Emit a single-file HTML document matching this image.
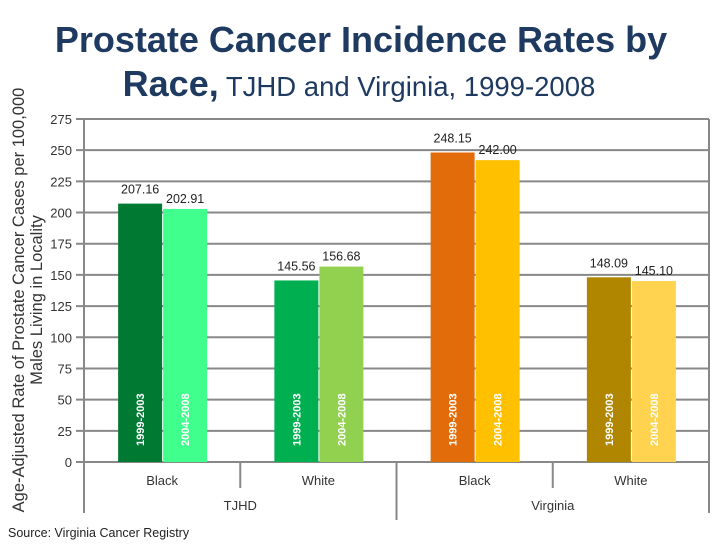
<!DOCTYPE html>
<html><head><meta charset="utf-8"><style>
body{margin:0;background:#fff;font-family:"Liberation Sans",sans-serif}
svg text{font-family:"Liberation Sans",sans-serif}
</style></head><body>
<svg width="720" height="540" viewBox="0 0 720 540" xmlns="http://www.w3.org/2000/svg">
<text x="361" y="52" text-anchor="middle" font-size="36" font-weight="bold" fill="#1f3a60">Prostate Cancer Incidence Rates by</text>
<text x="359" y="96" text-anchor="middle" fill="#1f3a60"><tspan font-size="36" font-weight="bold">Race,</tspan><tspan font-size="27.5"> TJHD and Virginia, 1999-2008</tspan></text>
<g id="grid"></g>
<g id="bars"></g>
<g id="axes"></g>
<text transform="translate(24,300) rotate(-90)" text-anchor="middle" font-size="16.5" fill="#333"><tspan x="0" dy="0">Age-Adjusted Rate of Prostate Cancer Cases per 100,000</tspan><tspan x="0" dy="18">Males Living in Locality</tspan></text>
<text x="8" y="537" font-size="12.5" fill="#222">Source: Virginia Cancer Registry</text>
</svg>
<script>
const categories=["Black","White","Black","White"];
const groups=["TJHD","Virginia"];
const periods=["1999-2003","2004-2008"];
const series1=[207.16,145.56,248.15,148.09];
const series2=[202.91,156.68,242.00,145.10];
const yTicks=[0,25,50,75,100,125,150,175,200,225,250,275];
const colors1=["#007a33","#00b050","#e36c0a","#b08600"];
const colors2=["#40ff8c","#92d050","#ffc000","#ffd34f"];
const NS="http://www.w3.org/2000/svg";
const x0=84,x1=709,yBase=462,yTop=119,yMax=275;
const catW=(x1-x0)/categories.length;
function y(v){return yBase-(v/yMax)*(yBase-yTop);}
function cx(i){return x0+catW*(i+0.5);}
function mk(parent,tag,attrs){const e=document.createElementNS(NS,tag);for(const k in attrs)e.setAttribute(k,attrs[k]);document.getElementById(parent).appendChild(e);return e;}
yTicks.forEach(t=>{
 const l=mk("grid","line",{x1:x0-8,x2:x1,y1:y(t),y2:y(t),stroke:"#888","stroke-width":2});
 
 
 const tx=mk("grid","text",{x:x0-12,y:y(t)+5,"text-anchor":"end","font-size":13,fill:"#333"});
 tx.textContent=t;
 
 
});
const bw=44;
categories.forEach((c,i)=>{
 const c0=cx(i);
 [[series1,colors1,c0-bw,0],[series2,colors2,c0+1,1]].forEach(([s,col,bx,k])=>{
  const r=mk("bars","rect",{x:bx,y:y(s[i]),width:bw,height:yBase-y(s[i]),fill:col[i]});
  
  
  const v=mk("bars","text",{x:bx+bw/2,y:y(s[i])-(k?6:10),"text-anchor":"middle","font-size":12.5,fill:"#222"});
  v.textContent=s[i].toFixed(2);
  
  
  const p=mk("bars","text",{transform:`translate(${bx+bw/2+4},446) rotate(-90)`,"font-size":11,"font-weight":"bold",fill:"#fff"});
  p.textContent=periods[k];
  
  
 });
 const cl=mk("axes","text",{x:c0,y:485,"text-anchor":"middle","font-size":13,fill:"#333"});
 cl.textContent=c;
 
 
});
const ax=mk("axes","line",{x1:x0,x2:x0,y1:yTop,y2:513,stroke:"#888","stroke-width":2});


for(let i=1;i<=categories.length;i++){
 const xx=x0+catW*i, major=(i%2===0);
 const t=mk("axes","line",{x1:xx,x2:xx,y1:yBase,y2:major?(i===2?520:513):488,stroke:"#888","stroke-width":2});
 
 
}
const rb=mk("axes","line",{x1:x1,x2:x1,y1:yTop,y2:yBase,stroke:"#888","stroke-width":2});


groups.forEach((g,i)=>{
 const gt=mk("axes","text",{x:x0+catW*(2*i+1),y:510,"text-anchor":"middle","font-size":13,fill:"#333"});
 gt.textContent=g;
 
 
});
</script>
</body></html>
